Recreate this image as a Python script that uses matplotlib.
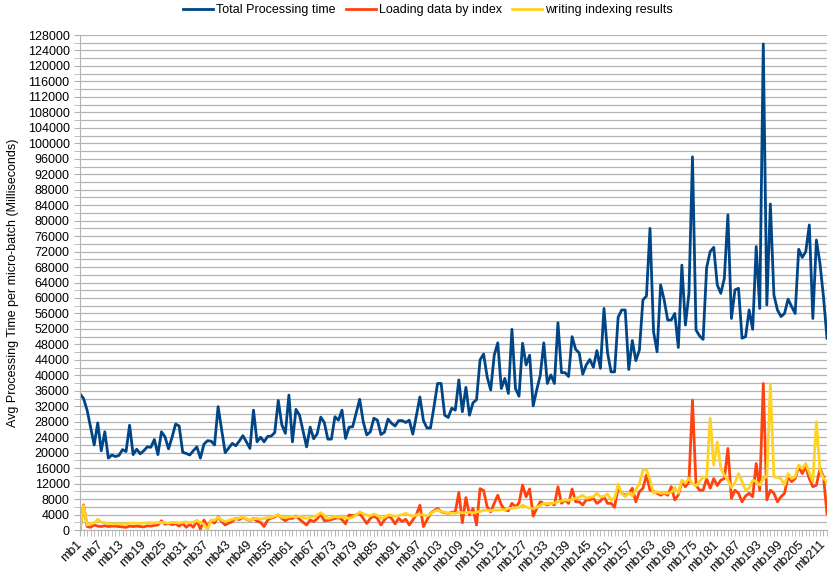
import matplotlib.pyplot as plt
import numpy as np

# valores (ms)
total_processing = [
    35200, 34000, 31000, 26500, 22000, 27700, 20500, 25400, 18600, 19400,
    19000, 19300, 20800, 20300, 27100, 19500, 20900, 19700, 20500, 21500,
    21400, 23400, 19500, 25400, 24100, 21000, 24000, 27400, 26900, 20100,
    19800, 19400, 20500, 21500, 18600, 22200, 23100, 23000, 22000, 31900,
    26000, 20000, 21200, 22400, 21800, 23000, 24400, 22800, 21100, 31000,
    22800, 24000, 22800, 24200, 24300, 25200, 33500, 27200, 25000, 34900,
    22800, 31200, 29700, 25600, 21500, 26600, 23600, 24900, 29200, 27800,
    23500, 23500, 29300, 28400, 31000, 23700, 26600, 26700, 30200, 33800,
    28000, 24600, 25400, 28900, 28400, 24700, 25300, 28700, 27600, 26900,
    28300, 28300, 27800, 28400, 24800, 29500, 34400, 28300, 26400, 26400,
    32000, 37900, 37900, 29700, 29100, 31500, 31000, 38800, 30600, 36900,
    29700, 32900, 33700, 44000, 45500, 39600, 36200, 45200, 48400, 36600,
    39200, 35300, 51900, 36600, 34600, 48300, 42700, 45200, 32100, 36200,
    40000, 48400, 37900, 40100, 37900, 53600, 40700, 40700, 39700, 50000,
    46700, 45800, 40300, 42700, 44100, 42100, 46400, 41800, 57300, 45900,
    40900, 40900, 55000, 56900, 56900, 41500, 49000, 43800, 46500, 59500,
    60500, 78000, 51300, 46100, 63400, 59500, 54300, 54300, 56000, 47200,
    68500, 53000, 61200, 96500, 51700, 50200, 49300, 67900, 72000, 73100,
    63400, 61200, 65100, 81500, 54700, 62100, 62500, 49600, 50000, 56900,
    51900, 73300, 57300, 125700, 58200, 84300, 60800, 56900, 55200, 56000,
    59700, 57800, 56000, 72600, 70500, 72000, 78900, 54700, 75000, 69000,
    60300, 49600,
]

loading_data = [
    0, 6500, 900, 700, 1300, 1000, 900, 1100, 900, 1000,
    1000, 900, 800, 700, 1000, 900, 1000, 900, 800, 1100,
    1000, 1200, 1300, 2400, 1500, 1700, 1400, 1600, 1000, 1700,
    700, 1500, 700, 2400, 200, 2600, 900, 2400, 1800, 3400,
    2200, 1300, 1800, 2200, 3000, 2700, 3300, 2800, 2400, 3000,
    2300, 2000, 900, 2600, 3100, 3400, 3900, 3000, 2400, 3000,
    3000, 3600, 2800, 2000, 1300, 2600, 2200, 2900, 4100, 2400,
    2500, 2700, 3000, 3200, 2700, 1600, 3900, 3700, 3900, 4300,
    3000, 1700, 3000, 3600, 3000, 1300, 2600, 3600, 3000, 1600,
    3000, 2200, 2800, 1300, 2600, 4000, 6400, 900, 2600, 4300,
    5000, 5600, 4700, 4500, 4300, 4600, 4700, 9700, 1900, 8400,
    3900, 5600, 1300, 10700, 10200, 6000, 4700, 6900, 9000, 6500,
    5200, 5000, 6900, 6000, 7000, 11600, 8600, 10600, 3600, 5600,
    7300, 6900, 6500, 6900, 6500, 11200, 6900, 7800, 6900, 10600,
    7300, 7300, 6500, 7800, 7800, 8200, 6900, 7500, 8600, 6900,
    6900, 5900, 11000, 9500, 9000, 9500, 10800, 7300, 9900, 10800,
    14200, 10300, 10000, 9500, 9000, 9500, 9000, 11200, 7800, 9100,
    12500, 11200, 12500, 33600, 11600, 10300, 10300, 13300, 10800, 13300,
    11500, 12900, 13300, 21100, 8200, 10300, 9500, 7300, 8800, 9500,
    8600, 17200, 10300, 37900, 7800, 10300, 9500, 7300, 8600, 9500,
    13800, 12500, 13300, 16400, 14600, 16400, 13300, 11200, 11600, 15900,
    13800, 4200,
]

writing_results = [
    0, 6300, 1300, 1700, 1800, 2800, 2000, 1900, 1700, 1600,
    1600, 1600, 1600, 1600, 1700, 1800, 1700, 1700, 1800, 1800,
    1900, 1800, 1900, 2000, 1900, 1800, 2000, 1900, 1800, 2000,
    2100, 1900, 2000, 2400, 2000, 1500, 0, 2600, 2500, 3300,
    2600, 2200, 2500, 2800, 2900, 3100, 3400, 2900, 2500, 2900,
    3000, 2800, 3000, 3200, 3300, 3600, 3900, 3300, 3200, 3400,
    3500, 3400, 3600, 3300, 3000, 3300, 3400, 3800, 4500, 3800,
    3000, 3200, 3500, 3300, 3400, 3200, 3000, 3300, 3900, 4700,
    4200, 3900, 3700, 4100, 3800, 3000, 3300, 3900, 3800, 3500,
    3700, 4000, 4300, 3900, 3600, 3900, 4000, 3900, 3600, 4200,
    4800, 5200, 4800, 4600, 4300, 4400, 4300, 4700, 4400, 4500,
    4600, 4400, 4700, 4800, 5100, 5100, 5000, 5200, 5100, 5300,
    5200, 5600, 5600, 5800, 5900, 6400, 6000, 5600, 5500, 5900,
    6400, 6900, 6800, 6800, 7000, 7300, 7500, 7800, 7700, 7900,
    8200, 8500, 9000, 8200, 8500, 8600, 9500, 8600, 8700, 9300,
    7800, 8200, 11900, 9500, 8600, 9700, 8800, 10500, 11900, 15500,
    15600, 12900, 9500, 9900, 9500, 9600, 9500, 9700, 11000, 9500,
    12900, 12100, 13400, 12000, 11400, 12600, 13700, 13600, 28900, 16800,
    22800, 15900, 14200, 12900, 11000, 12200, 14600, 12500, 10300, 10800,
    12900, 12500, 11600, 13300, 13800, 37800, 13800, 13600, 13300, 11600,
    14600, 13300, 13800, 16800, 15900, 17200, 14800, 12500, 28000, 15500,
    13300, 12500,
]

categorias = ["mb" + str(i + 1) for i in range(len(total_processing))]

plt.rcParams['font.family'] = ['Liberation Sans', 'DejaVu Sans']

fig = plt.figure(figsize=(8.31, 5.78), dpi=100)
ax = fig.add_axes([0.0963, 0.083, 0.8989, 0.8564])

x = np.arange(len(categorias))
ax.plot(x, total_processing, color='#004586', linewidth=2.0, label='Total Processing time')
ax.plot(x, loading_data, color='#ff420e', linewidth=2.0, label='Loading data by index')
ax.plot(x, writing_results, color='#ffd320', linewidth=2.0, label='writing indexing results')

ax.set_xlim(0, len(categorias) - 1)
ax.set_ylim(0, 128000)

# eixo y
ax.set_yticks(np.arange(0, 128001, 4000))
ax.set_yticklabels([str(v) for v in range(0, 128001, 4000)], fontsize=9)
ax.set_yticks(np.arange(0, 128001, 2000), minor=True)
ax.grid(True, axis='y', which='both', color='#b3b3b3', linewidth=0.9)
ax.set_axisbelow(True)
ax.set_ylabel('Avg Processing Time per micro-batch (Milliseconds)', fontsize=9, labelpad=6)

# eixo x
ax.set_xticks(x[::6])
ax.set_xticklabels(categorias[::6], rotation=45, ha='right', va='center',
                   rotation_mode='anchor', fontsize=9)
ax.set_xticks(x, minor=True)
ax.tick_params(axis='both', which='both', color='#b3b3b3', length=4)
ax.tick_params(axis='x', which='major', pad=5)

for lado in ['top', 'right']:
    ax.spines[lado].set_visible(False)
ax.spines['left'].set_color('#b3b3b3')
ax.spines['bottom'].set_color('#b3b3b3')

fig.legend(loc='upper center', ncol=3, frameon=False, fontsize=9,
           bbox_to_anchor=(0.515, 1.012), handlelength=2.4, columnspacing=0.8, handletextpad=0.25)

plt.savefig('out.png', dpi=100)
